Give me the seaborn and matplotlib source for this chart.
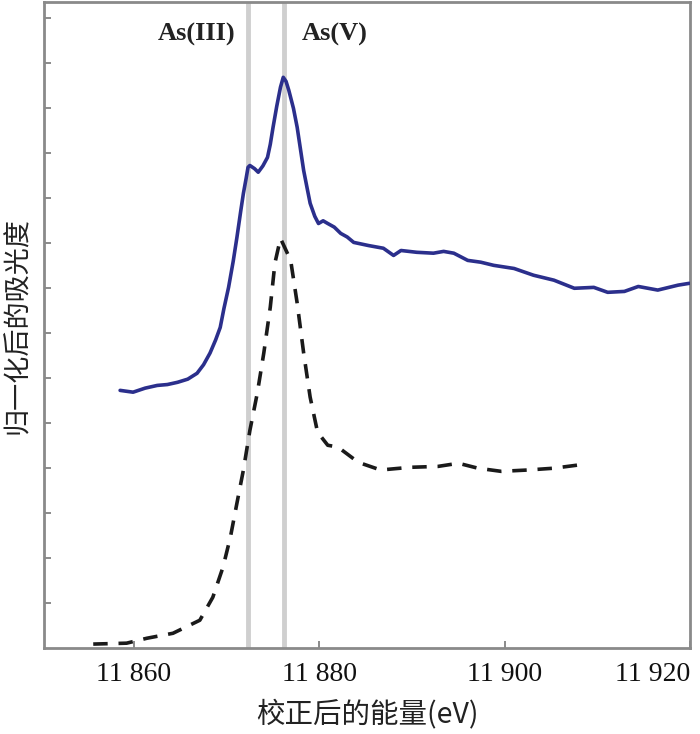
import numpy as np
import pandas as pd
import seaborn as sns
import matplotlib
matplotlib.use("Agg")
import matplotlib.pyplot as plt

# --- data ---
sample_energy = [11858.5, 11859.9, 11861.2, 11862.5, 11863.6, 11864.7, 11865.8, 11866.8,
                 11867.5, 11868.2, 11868.8, 11869.3, 11869.7, 11870.2, 11870.7, 11871.1,
                 11871.5, 11871.8, 11872.1, 11872.3, 11872.5, 11873.0, 11873.4, 11873.9,
                 11874.4, 11874.7, 11875.0, 11875.4, 11875.8, 11876.1, 11876.4, 11876.7,
                 11877.2, 11877.6, 11878.3, 11878.7, 11879.0, 11879.5, 11879.9, 11880.4,
                 11880.9, 11881.6, 11882.3, 11883.0, 11883.7, 11885.3, 11886.9, 11888.0,
                 11888.8, 11890.5, 11892.3, 11893.4, 11894.5, 11896.0, 11897.4, 11898.8,
                 11901.0, 11903.1, 11905.3, 11907.5, 11909.6, 11911.1, 11912.9, 11914.4,
                 11916.5, 11918.7, 11919.9]
sample_absorb = [5.73, 5.69, 5.78, 5.84, 5.86, 5.91, 5.98, 6.11,
                 6.30, 6.56, 6.85, 7.13, 7.55, 8.02, 8.60, 9.13,
                 9.70, 10.11, 10.45, 10.69, 10.73, 10.66, 10.58, 10.72,
                 10.91, 11.20, 11.58, 12.05, 12.47, 12.69, 12.60, 12.40,
                 12.00, 11.58, 10.62, 10.20, 9.89, 9.60, 9.44, 9.50,
                 9.44, 9.36, 9.22, 9.14, 9.02, 8.95, 8.89, 8.73,
                 8.84, 8.80, 8.78, 8.82, 8.78, 8.62, 8.58, 8.51,
                 8.44, 8.29, 8.18, 8.00, 8.02, 7.91, 7.93, 8.04,
                 7.96, 8.07, 8.11]

ref_energy = [11855.6, 11859.2, 11861.4, 11864.2, 11867.1, 11868.5, 11869.6, 11870.4,
              11871.1, 11871.8, 11872.5, 11873.3, 11874.0, 11874.7, 11875.2, 11875.8,
              11876.9, 11877.6, 11878.3, 11879.0, 11879.8, 11880.9, 11882.0, 11884.2,
              11886.6, 11889.8, 11892.8, 11895.0, 11897.1, 11899.6, 11902.5, 11905.3,
              11907.9]
ref_absorb = [0.09, 0.11, 0.22, 0.33, 0.62, 1.13, 1.80, 2.47,
              3.22, 3.96, 4.84, 5.67, 6.56, 7.58, 8.56, 9.11,
              8.62, 7.67, 6.56, 5.58, 4.80, 4.51, 4.47, 4.13,
              3.96, 4.02, 4.04, 4.11, 4.00, 3.93, 3.96, 4.00,
              4.07]

marker_energy = [11872.3, 11876.2]
marker_labels = ["As(III)", "As(V)"]

x_ticks = [11860, 11880, 11900, 11920]
x_tick_labels = ["11 860", "11 880", "11 900", "11 920"]
y_ticks = list(range(1, 15))

xlabel = "校正后的能量(eV)"
ylabel = "归一化后的吸光度"

sns.set_theme(style="white")
plt.rcParams['font.family'] = ['Noto Sans CJK SC', 'DejaVu Sans']

fig = plt.figure(figsize=(7.0, 7.34), dpi=100)
ax = fig.add_axes([0.063, 0.117, 0.923, 0.880])

sample_df = pd.DataFrame({"energy": sample_energy, "absorb": sample_absorb})
ref_df = pd.DataFrame({"energy": ref_energy, "absorb": ref_absorb})

for xv in marker_energy:
    ax.axvline(xv, color="#cfcfcf", lw=3.5, zorder=1)

sns.lineplot(data=sample_df, x="energy", y="absorb", ax=ax, color="#2b2f8c",
             lw=2.6, zorder=3)
sns.lineplot(data=ref_df, x="energy", y="absorb", ax=ax, color="#1a1a1a",
             lw=2.6, zorder=3, dashes=False)
ax.lines[-1].set_dashes([4, 3])

ax.set_xlim(11850.3, 11920.0)
ax.set_ylim(0, 14.36)
ax.set_xticks(x_ticks)
ax.set_xticklabels(x_tick_labels, family=['Liberation Serif'], fontsize=20,
                   color="#111111")
tl = ax.get_xticklabels()
tl[-1].set_ha("right")
ax.set_yticks(y_ticks)
ax.set_yticklabels([])
ax.tick_params(axis="both", direction="in", length=5, width=1.2, color="#777777",
               left=True, bottom=True, pad=10)
for s in ax.spines.values():
    s.set_color("#8a8a8a")
    s.set_linewidth(2.0)

ax.set_xlabel(xlabel, fontsize=20.5, labelpad=9, color="#222222")
ax.set_ylabel(ylabel, fontsize=19.5, color="#222222")
ax.yaxis.label.set_va("center")
ax.yaxis.set_label_coords(-0.042, 0.5)

ax.text(11866.8, 13.65, marker_labels[0], ha="center", va="center",
        family=['Liberation Serif'], fontsize=19, fontweight="bold", color="#222222")
ax.text(11881.7, 13.65, marker_labels[1], ha="center", va="center",
        family=['Liberation Serif'], fontsize=19, fontweight="bold", color="#222222")

fig.savefig("out.png", dpi=100)
